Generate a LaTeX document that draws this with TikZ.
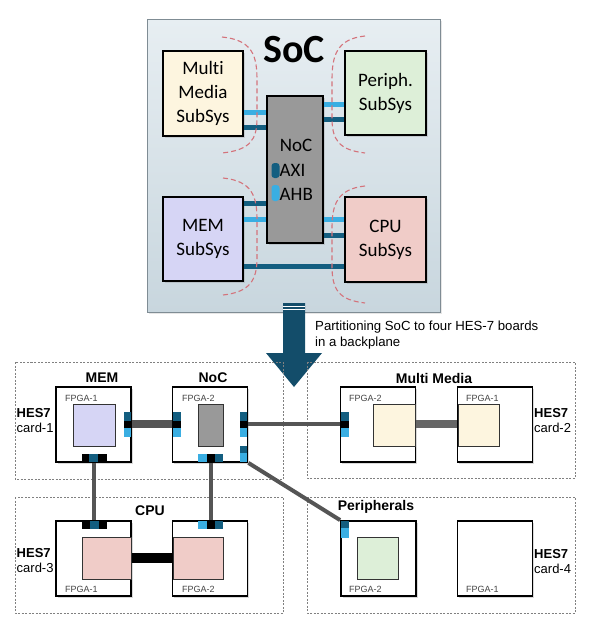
\documentclass[tikz,border=0pt]{standalone}
\usepackage{fontspec}
\setmainfont{Liberation Sans}
\newfontfamily\calfont[Ligatures=NoCommon]{Carlito}
\usetikzlibrary{shadows}
\definecolor{db}{HTML}{135E80}
\definecolor{lb}{HTML}{3AAEE2}
\definecolor{socT}{HTML}{E7EEF2}
\definecolor{socB}{HTML}{C8D6DE}
\definecolor{socb}{HTML}{7F8C94}
\definecolor{mmfill}{HTML}{FDF5DF}
\definecolor{perfill}{HTML}{DDEFD8}
\definecolor{memfill}{HTML}{D6D5F5}
\definecolor{cpufill}{HTML}{F0CCC8}
\definecolor{nocfill}{HTML}{999999}
\definecolor{redd}{HTML}{D4737B}
\definecolor{arrowc}{HTML}{134D6A}
\definecolor{linec}{HTML}{555555}
\definecolor{cardc}{HTML}{808080}
\definecolor{fpgat}{HTML}{444444}
\begin{document}
\begin{tikzpicture}[x=1pt,y=-1pt,
  sub/.style={draw=black, line width=1.5, align=center, inner sep=0,
    font=\calfont\fontsize{19}{24}\selectfont,
    drop shadow={shadow xshift=1.5pt, shadow yshift=-1.5pt, opacity=0.25}},
  sline/.style={line width=5},
  rdash/.style={draw=redd, line width=1.1, dash pattern=on 5pt off 3pt},
  card/.style={draw=cardc, line width=0.8, dash pattern=on 2pt off 1.5pt},
  fpga/.style={draw=black, line width=1.8, fill=white, minimum width=75, minimum height=75, inner sep=0,
    drop shadow={shadow xshift=1.5pt, shadow yshift=-1.5pt, opacity=0.3}},
  inner/.style={draw=black!80, line width=1, inner sep=0, minimum height=42},
  ctitle/.style={font=\bfseries\fontsize{14}{16}\selectfont, inner sep=0},
  hes/.style={font=\fontsize{13}{15}\selectfont, align=left, inner sep=0},
  flabel/.style={font=\fontsize{9}{10}\selectfont, text=fpgat, anchor=west, inner sep=0},
  bline/.style={draw=linec, line width=4},
]
\useasboundingbox (0,0) rectangle (589,630);

% ---------- SoC ----------
\node[draw=socb, line width=0.8, top color=socT, bottom color=socB,
      minimum width=293, minimum height=293, inner sep=0,
      drop shadow={shadow xshift=1.5pt, shadow yshift=-1.5pt, opacity=0.2}] (soc) at (293.5,165.5) {};
\node[font=\calfont\bfseries\fontsize{40}{40}\selectfont, inner sep=0] (soct) at (294,50) {SoC};

\node[sub, fill=mmfill, minimum width=80, minimum height=85] (mm) at (203,93.5) {Multi\\Media\\SubSys};
\node[sub, fill=perfill, minimum width=81, minimum height=84] (per) at (385.5,93) {Periph.\\SubSys};
\node[sub, fill=memfill, minimum width=80, minimum height=84] (mem) at (203,239) {MEM\\SubSys};
\node[sub, fill=cpufill, minimum width=81, minimum height=85] (cpu) at (385.5,239.5) {CPU\\SubSys};
\node[sub, fill=nocfill, minimum width=56, minimum height=147] (noc) at (295,169.5) {};

% SoC connections
\draw[sline, lb] (mm.east |- 0,112) -- (noc.west |- 0,112);
\draw[sline, db] (mm.east |- 0,127) -- (noc.west |- 0,127);
\draw[sline, lb] (noc.east |- 0,104) -- (per.west |- 0,104);
\draw[sline, db] (noc.east |- 0,119) -- (per.west |- 0,119);
\draw[sline, db] (mem.east |- 0,203) -- (noc.west |- 0,203);
\draw[sline, lb] (mem.east |- 0,219) -- (noc.west |- 0,219);
\draw[sline, lb] (noc.east |- 0,219) -- (cpu.west |- 0,219);
\draw[sline, db] (noc.east |- 0,235) -- (cpu.west |- 0,235);
\draw[sline, db] (mem.east |- 0,266) -- (cpu.west |- 0,266);

% NoC labels
\node[font=\calfont\fontsize{19}{24}\selectfont, inner sep=0] (noct) at (296,145) {NoC};
\node[font=\calfont\fontsize{19}{24}\selectfont, inner sep=0, anchor=west] (axi) at (279.5,170) {AXI};
\node[font=\calfont\fontsize{19}{24}\selectfont, inner sep=0, anchor=west] (ahb) at (279.5,194) {AHB};
\fill[db, rounded corners=3] (271.5,163) rectangle (279.5,178);
\fill[lb, rounded corners=3] (271.5,185) rectangle (279.5,201);

% red dashed separators
\draw[rdash] (222,37) .. controls (252,40) and (257,55) .. (257,80) -- (257,118) .. controls (257,140) and (250,150) .. (222,153);
\draw[rdash] (223,178) .. controls (252,181) and (257,196) .. (257,220) -- (257,258) .. controls (257,280) and (250,292) .. (223,295);
\draw[rdash] (365,36) .. controls (337,39) and (332,55) .. (332,80) -- (332,118) .. controls (332,140) and (339,150) .. (365,153);
\draw[rdash] (365,186) .. controls (337,189) and (332,205) .. (332,228) -- (332,266) .. controls (332,290) and (339,300) .. (365,303);

% ---------- Big arrow ----------
\fill[arrowc] (283,303) -- (305,303) -- (305,353) -- (322,353) -- (294,387) -- (266,353) -- (283,353) -- cycle;
\draw[white, line width=0.7] (283,306) -- (305,306);
\draw[white, line width=0.7] (283,309) -- (305,309);

\node[anchor=north west, align=left, inner sep=0, font=\fontsize{13.2}{15.5}\selectfont] (part) at (315,321)
  {Partitioning SoC to four HES-7 boards\\in a backplane};

% ---------- Cards ----------
\draw[card] (15,362) rectangle (283,479);
\draw[card] (307,362) rectangle (575,478);
\draw[card] (15,497) rectangle (283,613);
\draw[card] (307,497) rectangle (575,613);

\node[ctitle] (t1) at (102,378) {MEM};
\node[ctitle] (t2) at (213,378) {NoC};
\node[ctitle] (t3) at (434,378) {Multi Media};
\node[ctitle] (t4) at (150,511) {CPU};
\node[ctitle] (t5) at (376,507) {Peripherals};

\node[hes, anchor=west] (h1) at (16.5,421) {\textbf{HES7}\\card-1};
\node[hes, anchor=west] (h2) at (534,421) {\textbf{HES7}\\card-2};
\node[hes, anchor=west] (h3) at (16.5,561) {\textbf{HES7}\\card-3};
\node[hes, anchor=west] (h4) at (534,562) {\textbf{HES7}\\card-4};

% FPGA boxes
\coordinate (p11) at (93.5,424.5);
\coordinate (p12) at (210,424.5);
\coordinate (p22) at (378,424.5);
\coordinate (p21) at (495,424.5);
\coordinate (p31) at (93.5,558.5);
\coordinate (p32) at (210,558.5);
\coordinate (p42) at (378.5,558.5);
\coordinate (p41) at (495,558.5);

\node[fpga] (f11) at (p11) {};
\node[fpga] (f12) at (p12) {};
\node[fpga] (f22) at (p22) {};
\node[fpga] (f21) at (p21) {};
\node[fpga] (f31) at (p31) {};
\node[fpga] (f32) at (p32) {};
\node[fpga] (f42) at (p42) {};
\node[fpga] (f41) at (p41) {};

% connectors between boxes
\draw[draw=linec, line width=8] (f11.east |- 0,424) -- (f12.west |- 0,424);
\draw[bline] (f12.east |- 0,424) -- (f22.west |- 0,424);
\draw[draw=black!60, line width=8] (f22.east |- 0,424) -- (f21.west |- 0,424);
\draw[draw=black, line width=10] (f31.east |- 0,558) -- (f32.west |- 0,558);
\draw[bline] (f11.south) -- (f31.north);
\draw[bline] ([xshift=1pt]f12.south) -- ([xshift=1pt]f32.north);
\draw[bline] (f12.south east) -- (f42.north west);

% inner blocks
\node[inner, fill=memfill, minimum width=42] (i11) at (94,425) {};
\node[inner, fill=nocfill, minimum width=25] (i12) at (210.5,425) {};
\node[inner, fill=mmfill, minimum width=42] (i22) at (394,425) {};
\node[inner, fill=mmfill, minimum width=41] (i21) at (478.5,425) {};
\node[inner, fill=cpufill, minimum width=49] (i31) at (106.5,558) {};
\node[inner, fill=cpufill, minimum width=50] (i32) at (198,558) {};
\node[inner, fill=perfill, minimum width=41] (i42) at (377.5,558) {};

% FPGA labels
\node[flabel] (l11) at (65,398) {FPGA-1};
\node[flabel] (l12) at (182,398) {FPGA-2};
\node[flabel] (l22) at (349,398) {FPGA-2};
\node[flabel] (l21) at (466,398) {FPGA-1};
\node[flabel] (l31) at (65,589) {FPGA-1};
\node[flabel] (l32) at (182,589) {FPGA-2};
\node[flabel] (l42) at (349,589) {FPGA-2};
\node[flabel] (l41) at (466,589) {FPGA-1};

% ports
\fill[db] (124,412) rectangle (131,421); \fill[black] (124,421) rectangle (131,428); \fill[lb] (124,428) rectangle (131,437);
\fill[db] (173,412) rectangle (181,421); \fill[black] (173,421) rectangle (181,428); \fill[lb] (173,428) rectangle (181,437);
\fill[db] (240,412) rectangle (247,421); \fill[black] (240,421) rectangle (247,428); \fill[lb] (240,428) rectangle (247,437);
\fill[db] (240,446) rectangle (247,453); \fill[lb] (240,453) rectangle (247,462);
\fill[lb] (198,454) rectangle (207,462); \fill[black] (207,454) rectangle (215,462); \fill[db] (215,454) rectangle (223,462);
\fill[black] (82,454) rectangle (89,462); \fill[db] (89,454) rectangle (98,462); \fill[black] (98,454) rectangle (107,462);
\fill[black] (82,521) rectangle (90,529); \fill[db] (90,521) rectangle (99,529); \fill[black] (99,521) rectangle (107,529);
\fill[lb] (198,521) rectangle (207,529); \fill[black] (207,521) rectangle (215,529); \fill[db] (215,521) rectangle (223,529);
\fill[db] (341,412) rectangle (349,421); \fill[black] (341,421) rectangle (349,428); \fill[lb] (341,428) rectangle (349,437);
\fill[db] (341,521) rectangle (349,528); \fill[lb] (341,528) rectangle (349,538);
\end{tikzpicture}
\end{document}
